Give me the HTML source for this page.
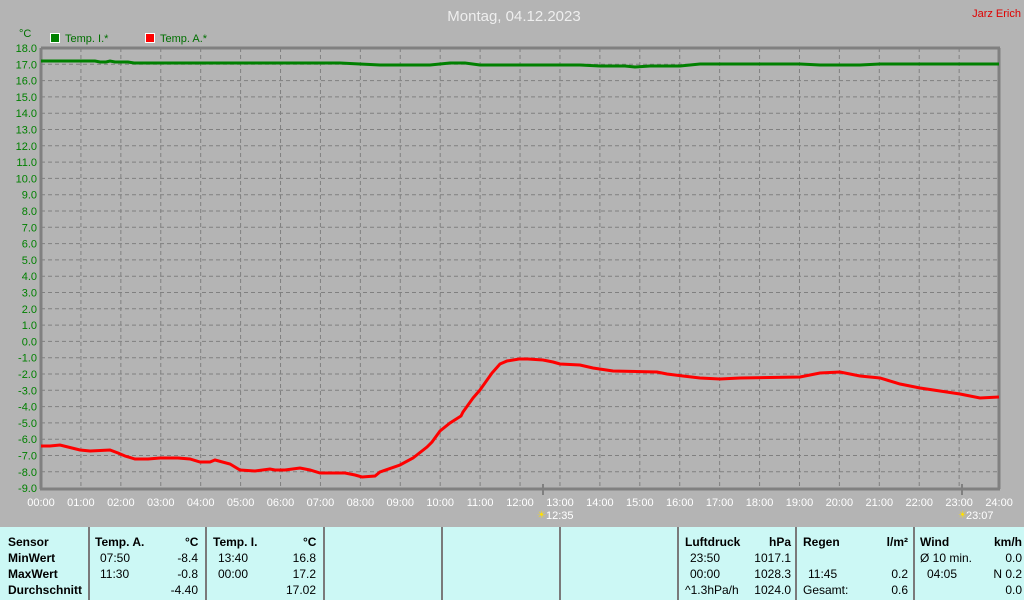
<!DOCTYPE html>
<html><head><meta charset="utf-8"><style>
body{margin:0;width:1024px;height:600px;background:#b4b4b4;overflow:hidden;font-family:"Liberation Sans",sans-serif}
svg{position:absolute;left:0;top:0}
#tbl{position:absolute;left:0;top:527px;width:1024px;height:73px;background:#ccf8f5;font-size:12px;color:#000}
.c{position:absolute;top:0;height:73px;border-left:2px solid #7a7a7a}
.t{position:absolute;white-space:nowrap}
.b{font-weight:bold}
</style></head><body>
<svg width="1024" height="527" viewBox="0 0 1024 527">
<text x="514" y="21" fill="#eeeeee" font-size="15" text-anchor="middle">Montag, 04.12.2023</text>
<text x="1021" y="17" fill="#e00000" font-size="11" text-anchor="end">Jarz Erich</text>
<text x="19" y="37" fill="#007000" font-size="11">°C</text>
<rect x="50.5" y="33.5" width="9" height="9" fill="#008000" stroke="#fff"/>
<text x="65" y="42" fill="#007000" font-size="11">Temp. I.*</text>
<rect x="145.5" y="33.5" width="9" height="9" fill="#ff0000" stroke="#fff"/>
<text x="160" y="42" fill="#007000" font-size="11">Temp. A.*</text>
<g stroke="#808080" stroke-dasharray="4,3" stroke-width="1">
<script>/* none */</script>
</g>
<g id="grid" stroke="#808080" stroke-dasharray="4,3" stroke-width="1"></g>
<g id="lab" font-size="11"></g>
<line x1="41" y1="48" x2="1000" y2="48" stroke="#808080" stroke-width="3"/>
<line x1="41" y1="48" x2="41" y2="489" stroke="#808080" stroke-width="3"/>
<line x1="999" y1="48" x2="999" y2="489" stroke="#808080" stroke-width="3"/>
<line x1="40" y1="489" x2="1000" y2="489" stroke="#808080" stroke-width="3"/>
<line x1="543" y1="484" x2="543" y2="495" stroke="#808080" stroke-width="2"/>
<line x1="962" y1="484" x2="962" y2="495" stroke="#808080" stroke-width="2"/>
<text x="546" y="519" fill="#fff" font-size="11">12:35</text>
<text x="537" y="518" fill="#ffe000" font-size="10">☀</text>
<text x="966" y="519" fill="#fff" font-size="11">23:07</text>
<text x="958" y="518" fill="#ffe000" font-size="10">☀</text>
<polyline fill="none" stroke="#008000" stroke-width="3" points="41,61 95,61 100,62 106,62 110,61 115,62 128,62 134,63 340,63 360,64 380,65 430,65 450,63 465,63 480,65 580,65 600,66 625,66 635,67 650,66 680,66 700,64 800,64 820,65 860,65 880,64 999,64"/>
<polyline fill="none" stroke="#ff0000" stroke-width="3" points="41,446 50,446 60,445 80,450 90,451 110,450 118,453 125,456 135,459 148,459 160,458 178,458 190,459 200,462 210,462 215,460 230,464 240,470 255,471 270,469 275,470 285,470 300,468 310,470 320,473 345,473 355,475 362,477 375,476 380,472 400,465 413,458 427,447 432,442 440,431 450,423 461,416 463,412 473,398 480,390 492,373 500,364 507,361 519,359 528,359 543,360 553,362 560,364 580,365 593,368 613,371 657,372 667,374 683,376 700,378 720,379 740,378 800,377 820,373 840,372 860,376 880,378 900,384 920,388 940,391 960,394 980,398 999,397"/>
</svg>
<div id="tbl">
<div class="c" style="left:88px"></div><div class="c" style="left:205px"></div><div class="c" style="left:323px"></div><div class="c" style="left:441px"></div><div class="c" style="left:559px"></div><div class="c" style="left:677px"></div><div class="c" style="left:795px"></div><div class="c" style="left:913px"></div>
<div class="t b" style="left:8px;top:8px">Sensor</div>
<div class="t b" style="left:8px;top:24px">MinWert</div>
<div class="t b" style="left:8px;top:40px">MaxWert</div>
<div class="t b" style="left:8px;top:56px">Durchschnitt</div>
<div class="t b" style="left:95px;top:8px">Temp. A.</div><div class="t b" style="left:185px;top:8px">°C</div>
<div class="t" style="left:100px;top:24px">07:50</div><div class="t" style="right:826px;top:24px">-8.4</div>
<div class="t" style="left:100px;top:40px">11:30</div><div class="t" style="right:826px;top:40px">-0.8</div>
<div class="t" style="right:826px;top:56px">-4.40</div>
<div class="t b" style="left:213px;top:8px">Temp. I.</div><div class="t b" style="left:303px;top:8px">°C</div>
<div class="t" style="left:218px;top:24px">13:40</div><div class="t" style="right:708px;top:24px">16.8</div>
<div class="t" style="left:218px;top:40px">00:00</div><div class="t" style="right:708px;top:40px">17.2</div>
<div class="t" style="right:708px;top:56px">17.02</div>
<div class="t b" style="left:685px;top:8px">Luftdruck</div><div class="t b" style="right:233px;top:8px">hPa</div>
<div class="t" style="left:690px;top:24px">23:50</div><div class="t" style="right:233px;top:24px">1017.1</div>
<div class="t" style="left:690px;top:40px">00:00</div><div class="t" style="right:233px;top:40px">1028.3</div>
<div class="t" style="left:685px;top:56px">^1.3hPa/h</div><div class="t" style="right:233px;top:56px">1024.0</div>
<div class="t b" style="left:803px;top:8px">Regen</div><div class="t b" style="right:116px;top:8px">l/m²</div>
<div class="t" style="left:808px;top:40px">11:45</div><div class="t" style="right:116px;top:40px">0.2</div>
<div class="t" style="left:803px;top:56px">Gesamt:</div><div class="t" style="right:116px;top:56px">0.6</div>
<div class="t b" style="left:920px;top:8px">Wind</div><div class="t b" style="right:2px;top:8px">km/h</div>
<div class="t" style="left:920px;top:24px">Ø 10 min.</div><div class="t" style="right:2px;top:24px">0.0</div>
<div class="t" style="left:927px;top:40px">04:05</div><div class="t" style="right:2px;top:40px">N 0.2</div>
<div class="t" style="right:2px;top:56px">0.0</div>
</div>
<script>
var g=document.getElementById('grid'),l=document.getElementById('lab'),ns='http://www.w3.org/2000/svg';
function el(p,t,a,txt){var e=document.createElementNS(ns,t);for(var k in a)e.setAttribute(k,a[k]);if(txt)e.textContent=txt;p.appendChild(e);}
for(var v=18;v>=-9;v--){var y=48+(18-v)*16.3;
if(v<18&&v>-9)el(g,'line',{x1:41,x2:999,y1:y,y2:y});
el(l,'text',{x:37,y:y+4,'text-anchor':'end',fill:'#008000'},v.toFixed(1));}
for(var h=0;h<=24;h++){var x=41+h*39.92;
if(h>0&&h<24)el(g,'line',{x1:x,x2:x,y1:48,y2:489});
el(l,'text',{x:x,y:506,'text-anchor':'middle',fill:'#ffffff'},(h<10?'0':'')+h+':00');}
</script>
</body></html>
